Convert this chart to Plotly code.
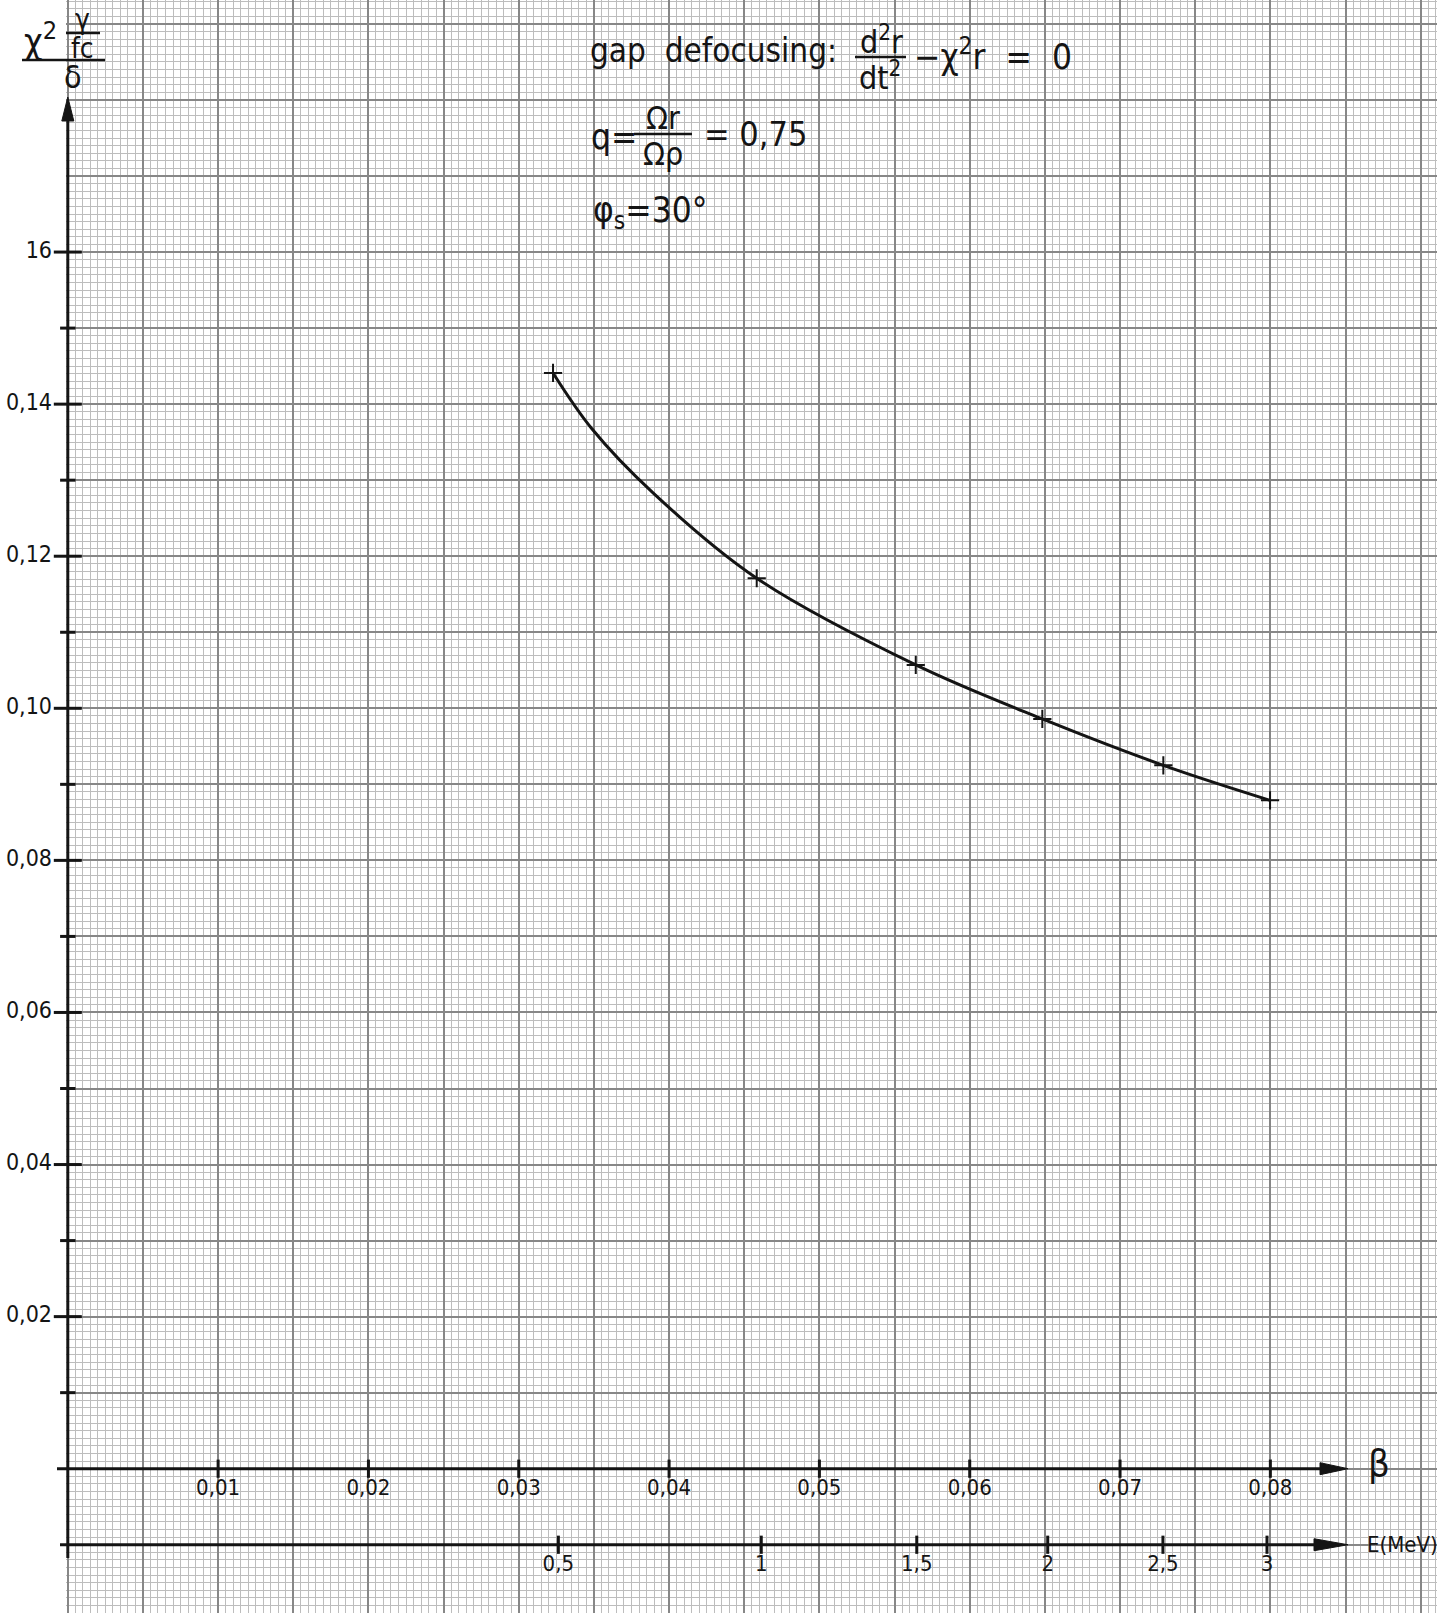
import math
import plotly.graph_objects as go

# ---------------- data ----------------
cross_beta = [0.03228, 0.04583, 0.05641, 0.06483, 0.07288, 0.07998]
defocus_values = [0.1441, 0.1171, 0.1057, 0.0986, 0.0925, 0.0879]

# hand-drawn curve (beta, value)
curve_beta = [0.03228, 0.03485, 0.03895, 0.04583, 0.05641, 0.06483, 0.07288, 0.07998]
curve_values = [0.1441, 0.1368, 0.1283, 0.1171, 0.1057, 0.0986, 0.0925, 0.0879]

beta_ticks = [0.01, 0.02, 0.03, 0.04, 0.05, 0.06, 0.07, 0.08]
beta_tick_labels = ["0,01", "0,02", "0,03", "0,04", "0,05", "0,06", "0,07", "0,08"]

energy_ticks = [0.5, 1.0, 1.5, 2.0, 2.5, 3.0]
energy_tick_labels = ["0,5", "1", "1,5", "2", "2,5", "3"]

y_major_ticks = [0.02, 0.04, 0.06, 0.08, 0.10, 0.12, 0.14, 0.16]
y_major_labels = ["0,02", "0,04", "0,06", "0,08", "0,10", "0,12", "0,14", "16"]
y_minor_ticks = [0.01, 0.03, 0.05, 0.07, 0.09, 0.11, 0.13, 0.15]

PROTON_MASS_MEV = 938.27


def beta_of_energy(e_mev):
    gamma = 1.0 + e_mev / PROTON_MASS_MEV
    return math.sqrt(1.0 - 1.0 / gamma ** 2)


# ---------------- canvas / scale ----------------
W, H = 1437, 1613
X0_PX, KX = 67.8, 15032.0      # pixel of beta=0, pixels per unit beta
Y0_PX, KY = 1468.7, 7604.0     # pixel of y=0, pixels per unit y


def dx(px):
    return (px - X0_PX) / KX


def dy(py):
    return (Y0_PX - py) / KY


x_range = [dx(0), dx(W)]
y_range = [dy(H), dy(0)]

INK = "#141414"
FONT = "DejaVu Sans Condensed, DejaVu Sans, sans-serif"

energy_tick_pos = [beta_of_energy(e) for e in energy_ticks]

fig = go.Figure()

# curve
fig.add_trace(go.Scatter(
    x=curve_beta, y=curve_values, mode="lines",
    line=dict(color=INK, width=3, shape="spline", smoothing=1.0),
    hoverinfo="skip"))
# crosses
fig.add_trace(go.Scatter(
    x=cross_beta, y=defocus_values, mode="markers",
    marker=dict(symbol="cross-thin", size=13, line=dict(color=INK, width=2)),
    hoverinfo="skip"))

# beta axis ticks
fig.add_trace(go.Scatter(
    x=beta_ticks, y=[0.0] * len(beta_ticks), mode="markers",
    marker=dict(symbol="line-ns", size=13, line=dict(color=INK, width=3)),
    hoverinfo="skip"))
fig.add_trace(go.Scatter(
    x=beta_ticks, y=[dy(1489)] * len(beta_ticks), mode="text",
    text=beta_tick_labels, textposition="middle center",
    textfont=dict(family=FONT, size=22, color=INK), hoverinfo="skip"))

# energy axis ticks
E_AXIS_Y = -0.01
fig.add_trace(go.Scatter(
    x=energy_tick_pos, y=[E_AXIS_Y] * len(energy_tick_pos), mode="markers",
    marker=dict(symbol="line-ns", size=13, line=dict(color=INK, width=3)),
    hoverinfo="skip"))
fig.add_trace(go.Scatter(
    x=energy_tick_pos, y=[dy(1565)] * len(energy_tick_pos), mode="text",
    text=energy_tick_labels, textposition="middle center",
    textfont=dict(family=FONT, size=22, color=INK), hoverinfo="skip"))

# y axis ticks
fig.add_trace(go.Scatter(
    x=[0.0] * len(y_major_ticks), y=y_major_ticks, mode="markers",
    marker=dict(symbol="line-ew", size=20, line=dict(color=INK, width=3)),
    hoverinfo="skip"))
fig.add_trace(go.Scatter(
    x=[0.0] * len(y_minor_ticks), y=y_minor_ticks, mode="markers",
    marker=dict(symbol="line-ew", size=11, line=dict(color=INK, width=3)),
    hoverinfo="skip"))
fig.add_trace(go.Scatter(
    x=[dx(52)] * len(y_major_ticks), y=y_major_ticks, mode="text",
    text=y_major_labels, textposition="middle left",
    textfont=dict(family=FONT, size=23, color=INK), hoverinfo="skip"))

shapes = []
# white strip left of the graph paper
shapes.append(dict(type="rect", xref="x", yref="y", x0=x_range[0], x1=dx(66),
                   y0=y_range[0], y1=y_range[1], fillcolor="white",
                   line=dict(width=0), layer="between"))


def hline(x0, x1, y, width=3):
    return dict(type="line", xref="x", yref="y", x0=x0, x1=x1, y0=y, y1=y,
                line=dict(color=INK, width=width), layer="above")


def vline(x, y0, y1, width=3):
    return dict(type="line", xref="x", yref="y", x0=x, x1=x, y0=y0, y1=y1,
                line=dict(color=INK, width=width), layer="above")


def tri(path):
    return dict(type="path", xref="x", yref="y", path=path, fillcolor=INK,
                line=dict(color=INK, width=1), layer="above")


# beta axis with arrow
tip = dx(1348)
base = dx(1320)
hw = 6 / KY
shapes.append(hline(dx(57), base, 0.0))
shapes.append(tri(f"M {base},{hw} L {tip},0 L {base},{-hw} Z"))
# energy axis with arrow
base_e = dx(1314)
shapes.append(hline(dx(60), base_e, E_AXIS_Y))
shapes.append(tri(f"M {base_e},{E_AXIS_Y + hw} L {tip},{E_AXIS_Y} L {base_e},{E_AXIS_Y - hw} Z"))
# y axis with arrow
ytip = dy(97)
ybase = dy(121)
hwx = 6 / KX
shapes.append(vline(0.0, dy(1558), ybase))
shapes.append(tri(f"M {-hwx},{ybase} L 0,{ytip} L {hwx},{ybase} Z"))

# fraction bars
shapes.append(hline(dx(855), dx(906), dy(57), width=2.5))     # d2r/dt2
shapes.append(hline(dx(634), dx(692), dy(134), width=2.5))    # Omega r / Omega rho
shapes.append(hline(dx(66), dx(100), dy(33), width=2.5))      # gamma / fc
shapes.append(hline(dx(22), dx(105), dy(60), width=2.5))      # big bar of y label

annotations = []


def label(text, px, py, size, xanchor="left"):
    annotations.append(dict(text=text, x=dx(px), y=dy(py), xref="x", yref="y",
                            showarrow=False, xanchor=xanchor, yanchor="middle",
                            font=dict(family=FONT, size=size, color=INK)))


label("gap  defocusing:", 588, 50, 33)
label("d<sup>2</sup>r", 881, 40, 32, xanchor="center")
label("dt<sup>2</sup>", 880, 76, 32, xanchor="center")
label("−χ<sup>2</sup>r  =  0", 912, 54, 35)
label("q=", 589, 137, 35)
label("Ωr", 663, 118, 32, xanchor="center")
label("Ωρ", 663, 154, 32, xanchor="center")
label("= 0,75", 702, 134, 34)
label("φ<sub>s</sub>=30°", 591, 212, 35)

# y-axis title
label("χ<sup>2</sup>", 22, 39, 36)
label("γ", 82, 19, 28, xanchor="center")
label("fc", 82, 48, 28, xanchor="center")
label("δ", 73, 77, 32, xanchor="center")

# axis names
label("β", 1366, 1463, 38)
label("E(MeV)", 1365, 1544, 22)

GRID_MAJOR = "#878787"
GRID_MINOR = "#bdbdbd"

fig.update_layout(
    width=W, height=H, autosize=False,
    margin=dict(l=0, r=0, t=0, b=0, pad=0),
    paper_bgcolor="white", plot_bgcolor="white",
    showlegend=False,
    shapes=shapes, annotations=annotations,
    xaxis=dict(range=x_range, fixedrange=True, showticklabels=False, ticks="",
               zeroline=False, showline=False,
               tickmode="linear", tick0=0, dtick=0.005,
               showgrid=True, gridcolor=GRID_MAJOR, gridwidth=1.6,
               minor=dict(tickmode="linear", tick0=0, dtick=0.0005, ticks="",
                          showgrid=True, gridcolor=GRID_MINOR, gridwidth=1)),
    yaxis=dict(range=y_range, fixedrange=True, showticklabels=False, ticks="",
               zeroline=False, showline=False,
               tickmode="linear", tick0=0, dtick=0.01,
               showgrid=True, gridcolor=GRID_MAJOR, gridwidth=1.6,
               minor=dict(tickmode="linear", tick0=0, dtick=0.001, ticks="",
                          showgrid=True, gridcolor=GRID_MINOR, gridwidth=1)),
)

fig.write_html("out.html",
               config={"displayModeBar": False},
               post_script="document.body.style.margin='0px';"
                           "document.body.style.overflow='hidden';")
